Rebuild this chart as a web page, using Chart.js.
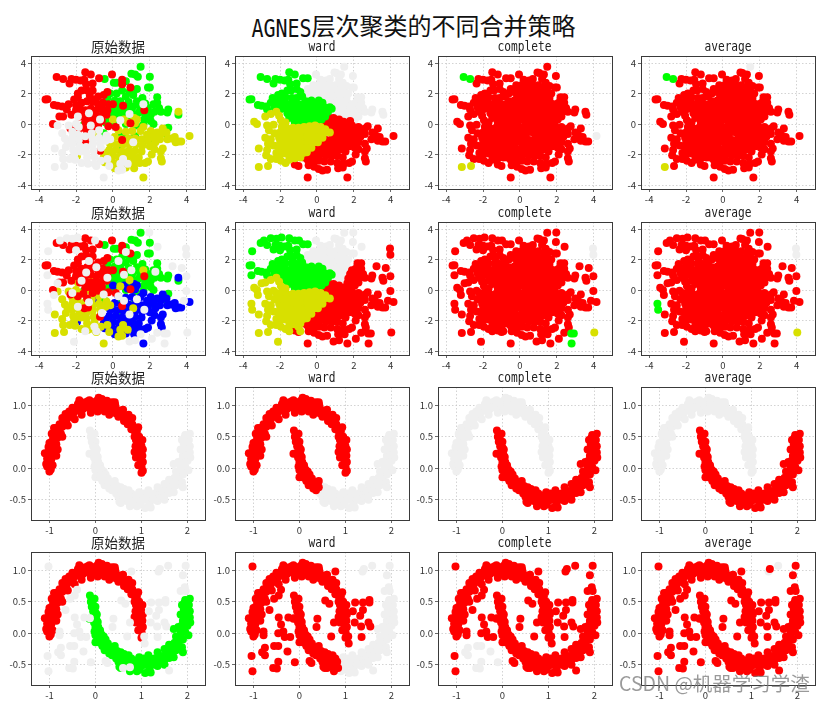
<!DOCTYPE html>
<html>
<head>
<meta charset="utf-8">
<title>AGNES</title>
<script src="https://cdn.jsdelivr.net/npm/chart.js@4"></script>
<style>
    html, body { margin: 0; padding: 0; background: #fff; }
    body { position: relative; width: 827px; height: 702px; overflow: hidden; }
    canvas { position: absolute; }
    #main-title { position: absolute; left: 0; top: 9px; width: 827px; text-align: center; color: #111; white-space: nowrap;
        font: 24px/32px "Noto Sans CJK SC", sans-serif; }
    #main-title span { font: 20px/32px "DejaVu Sans Mono", monospace; display: inline-block; transform: scaleY(1.25); }
    #mark { position: absolute; left: 619px; top: 669px; color: rgba(120,120,120,0.75); white-space: nowrap; z-index: 5;
        font: 19.5px/28px "Noto Sans CJK SC", sans-serif; }
    .sub { position: absolute; width: 174px; height: 18px; text-align: center; color: #222; white-space: nowrap; }
    .sub.cn { font: 13.5px/18px "Noto Sans CJK SC", sans-serif; }
    .sub.en { font: 11.2px/18px "DejaVu Sans Mono", monospace; transform: scaleY(1.2); }
</style>
</head>
<body>
<div id="main-title"><span>AGNES</span>层次聚类的不同合并策略</div>
<div id="mark">CSDN @机器学习学渣</div>
<script>
// colours
const RED = '#ff0000', GREEN = '#00ff00', YELLOW = '#d8e000', BLUE = '#0000ff', GREY = '#efefef';

// tick labels
const blobTicks = [-4, -2, 0, 2, 4];
const moonXTicks = [-1, 0, 1, 2];
const moonYTicks = [-0.5, 0, 0.5, 1];
const moonYLabels = ['-0.5', '0.0', '0.5', '1.0'];
const titles = ['原始数据', 'ward', 'complete', 'average'];

// blobs, true clusters (first column)
const origRed = [[-3.65,1.6],[-3.55,1.62],[-3.05,3.08],[-2.7,2.95],[-2.25,2.95],[-2.35,2.65],[-2,2.9],[-1.75,2.85],[-1.5,3.4],[-1.2,3.25],[-1.55,2.9],[-1.45,2.6],[-1.1,2.65],[-0.75,3],[-0.05,3.25],[0.5,2.9],[0.5,2.6],[0.95,2.4],[-3.2,1.25],[-3,1.2],[-2.75,1.15],[-2.5,0.95],[-3.25,0],[-2.9,0.5],[-2.7,0.5],[-2.4,1.3],[-2.1,1.6],[-1.9,2],[-1.7,2.2],[-1.4,2.2],[-1.1,2.2],[-0.8,1.8],[-0.5,1.9],[-0.3,2.1],[-2,1.25],[-1.7,1.4],[-1.4,1.5],[-1.1,1.45],[-0.8,1.3],[-0.55,1.4],[-0.25,1.3],[0,1.3],[-2,0.9],[-1.75,0.95],[-1.5,0.9],[-1.2,1],[-0.9,0.9],[-0.6,1],[-0.3,0.9],[-1.8,0.5],[-1.5,0.55],[-1.2,0.5],[-0.9,0.55],[-0.6,0.55],[-1.5,0.15],[-1.25,0.2],[-0.9,0.15],[-0.6,0.2],[-2.3,-0.3],[-1.9,-0.4],[-1.6,-0.25],[-1.4,-0.55],[-1.1,-0.2],[-0.8,-0.05],[-0.25,-0.15],[0.15,-0.2],[-1.55,-1.2],[-1.35,-1.15],[0.5,-1.05],[0.55,1.2],[0.95,0.05],[1.7,0.9],[-0.7,-1.75],[-1.9,1.75],[-1.25,1.85],[-0.95,1.6],[-2.25,0.6],[-0.35,0.6]];
const origGreen = [[1.5,3.75],[1,3.3],[1.2,3.25],[1.35,3.1],[2,3.1],[-0.45,2.95],[0.05,2.7],[0.2,2.7],[0.7,2.8],[1.9,2.4],[2,2.4],[0.5,2.2],[0.9,2.1],[1.3,2.3],[-0.15,2],[0.2,2],[0.7,1.8],[1.1,1.9],[1.6,1.7],[2.4,1.75],[2.4,1.4],[-0.3,1.7],[0.1,1.55],[0.4,1.5],[0.85,1.45],[1.3,1.5],[1.75,1.35],[2.2,1.3],[2.5,1.05],[3,0.95],[2.95,0.75],[3.55,0.6],[0.1,1.15],[0.45,1.1],[0.8,1.1],[1.1,1.15],[1.5,1.1],[1.9,1.05],[2.25,0.8],[2.6,0.8],[0,0.85],[0.35,0.8],[0.7,0.75],[1.05,0.7],[1.4,0.75],[1.75,0.6],[2.05,0.6],[-0.6,0.55],[-0.2,0.5],[0.15,0.45],[0.5,0.4],[0.9,0.35],[1.3,0.35],[1.7,0.3],[2.05,0.2],[-0.9,0.1],[-0.4,0.1],[0,0.05],[0.7,0],[1.25,-0.1],[1.65,-0.05],[2.2,0],[3,-0.25],[2.8,-0.6],[-1.6,-0.1],[-0.5,-0.6],[0.6,-0.8],[1.2,-0.8],[0.4,-1.7],[0.45,-0.8],[1.95,-1]];
const origYellow = [[4.15,-0.78],[3.55,0.8],[3.7,-1.15],[3.55,-1.15],[3.4,-1.2],[3.15,-0.95],[2.95,-1],[3.35,-0.85],[2.6,-0.65],[2.9,-0.55],[2.7,-0.3],[2.05,-0.45],[2.4,-0.55],[1.65,-0.2],[1.2,0.05],[1.15,0.4],[1.3,0.3],[0.6,0.3],[0,0.3],[-0.9,-0.7],[-1.05,0],[-1,-0.05],[0.8,0.1],[0.3,-0.4],[0.7,-0.5],[1.05,-0.45],[1.5,-0.45],[1.85,-0.7],[2.2,-0.85],[2.55,-1],[0.1,-0.85],[0.45,-1],[0.85,-0.95],[1.2,-0.95],[1.55,-1],[1.9,-1.1],[2.3,-1.2],[-0.15,-1.3],[0.2,-1.35],[0.55,-1.35],[0.9,-1.35],[1.25,-1.35],[1.6,-1.4],[2,-1.45],[-0.2,-1.7],[0.15,-1.7],[0.5,-1.8],[0.85,-1.75],[1.2,-1.75],[1.55,-1.8],[2.25,-1.65],[2.7,-1.6],[2.6,-1.8],[-0.4,-1.9],[0,-2.1],[0.35,-2.15],[0.7,-2.15],[1.05,-2.1],[1.4,-2.2],[2.1,-2],[2.6,-2.25],[2.65,-2.45],[-0.5,-2.2],[-0.45,-2.5],[-0.05,-2.45],[0.3,-2.5],[0.75,-2.45],[1.1,-2.5],[1.45,-2.55],[1.9,-2.45],[1.75,-2.55],[0.1,-2.9],[0.7,-2.85],[1.15,-2.9],[1.65,-3.5],[-1.95,-2.1]];
const origGrey = [[-3.15,-1.6],[-3.15,-2.82],[-2.65,-2.75],[-2.75,-1.9],[-2.55,-1.5],[-2.45,-1.2],[-2.6,-0.95],[-2.75,-0.6],[-3,-0.1],[-2.7,-2.3],[-2.35,-2.3],[-2.2,-0.5],[-2.2,-0.9],[-2.2,-1.3],[-2.15,-1.7],[-2.1,-2],[-2.05,-2.35],[-1.85,-0.2],[-1.9,-0.7],[-1.85,-1.05],[-1.8,-1.45],[-1.75,-1.8],[-1.7,-2.55],[-1.5,-0.8],[-1.45,-1.5],[-1.45,-1.85],[-1.4,-2.2],[-1.35,-2.6],[-1.15,-0.6],[-1.1,-1],[-1.1,-1.35],[-1.05,-1.75],[-1,-2.15],[-1,-2.6],[-0.75,-0.4],[-0.75,-0.9],[-0.7,-1.25],[-0.65,-1.55],[-0.65,-2.4],[-0.9,-2.75],[-0.4,-1.1],[-0.35,-0.75],[-0.3,-2.3],[-0.15,-1],[-0.5,-3.5],[-0.2,-2.75],[0.3,-3.05],[0.5,-3],[0.4,-2.6],[0.8,-2.6],[-0.7,0.3],[-1.9,0.5],[-1.3,0.7],[-2,0],[-1.2,-0.1],[0.4,0.25],[1.1,-1.2],[1.65,1.3],[0.9,0.65],[0.55,-2.3],[-2.4,-0.1]];

// blobs, ward result of the first row
const wardGreen = [[-3.65,1.6],[-3.55,1.62],[-3.05,3.08],[-2.7,2.95],[-2.25,2.95],[-2.35,2.65],[-2,2.9],[-1.75,2.85],[-1.5,3.4],[-1.2,3.25],[-1.55,2.9],[-1.45,2.6],[-1.1,2.65],[-0.75,3],[-0.5,3],[-1.4,2.2],[-1.1,2.3],[-0.9,2.1],[-0.8,1.8],[-2.1,1.9],[-1.9,2],[-1.6,2.2],[-2.4,1.7],[-2.3,1.45],[-2,1.6],[-1.7,1.75],[-1.35,1.7],[-1.1,1.7],[-0.6,1.5],[-0.3,1.55],[0.1,1.55],[0.3,1.4],[-3.2,1.25],[-3,1.2],[-2.75,1.15],[-2.5,1.4],[-2.7,0.95],[-2.3,1.1],[-2,1.25],[-1.7,1.35],[-1.4,1.35],[-1.1,1.35],[-0.8,1.3],[-0.5,1.25],[-0.2,1.25],[0.1,1.2],[0.4,1.1],[0.7,1.1],[0.8,1],[-2,0.95],[-1.7,1],[-1.4,1],[-1.1,1],[-0.8,0.95],[-0.5,0.95],[-0.2,0.95],[0.1,0.9],[0.35,0.85],[0.6,0.8],[-1.6,0.7],[-1.3,0.7],[-1,0.7],[-0.7,0.65],[-0.4,0.65],[-0.1,0.65],[0.2,0.6],[0.45,0.5],[-1.5,0.4],[-1.2,0.4],[-0.9,0.35],[-0.6,0.35],[-0.3,0.35],[0,0.3],[0.25,0.3],[-1.2,0.1],[-0.9,0.1],[-0.6,0.1],[-0.35,0.12],[-1.05,0]];
const wardYellow = [[-3.4,0.15],[-3.25,0],[-3.15,-1.6],[-3.15,-2.82],[-2.65,-2.75],[-2.8,0.5],[-2.5,0.65],[-2.2,0.8],[-2.7,-0.1],[-2.6,-0.4],[-2.35,-0.05],[-2.3,-0.6],[-2.8,-0.9],[-2.65,-1.3],[-2.7,-1.7],[-2.75,-2.05],[-2.5,-1],[-2.35,-1.4],[-2.5,-2.3],[-2.2,-2.3],[-2.2,-1.9],[-1.95,-2.4],[-1.7,-2.55],[-1.5,-2.35],[-2.05,0.55],[-1.95,0.25],[-1.7,0.1],[-1.9,-0.2],[-1.6,-0.3],[-1.3,-0.25],[-1,-0.25],[-0.7,-0.2],[-0.4,-0.15],[-0.1,-0.1],[0.2,-0.2],[0.45,-0.35],[-2,-0.55],[-1.7,-0.6],[-1.4,-0.6],[-1.1,-0.55],[-0.8,-0.55],[-0.5,-0.5],[-0.2,-0.5],[0.1,-0.5],[0.4,-0.55],[0.7,-0.55],[-2.05,-0.9],[-1.75,-0.95],[-1.45,-0.95],[-1.15,-0.9],[-0.85,-0.9],[-0.55,-0.85],[-0.25,-0.85],[0.05,-0.85],[0.3,-0.9],[-2,-1.25],[-1.7,-1.3],[-1.4,-1.3],[-1.1,-1.25],[-0.8,-1.25],[-0.5,-1.2],[-0.2,-1.2],[0.05,-1.2],[-2.05,-1.6],[-1.75,-1.6],[-1.45,-1.65],[-1.15,-1.6],[-0.85,-1.6],[-0.55,-1.55],[-0.3,-1.55],[-1.95,-1.95],[-1.65,-1.95],[-1.35,-2],[-1.05,-1.95],[-0.75,-1.9],[-0.55,-1.85],[-1.2,-2.25],[-0.9,-2.2]];
const wardRed = [[0.6,0.5],[0.9,0.4],[1.2,0.3],[0.5,0.2],[0.8,0.1],[1.1,0.05],[1.45,0.15],[1.8,0.2],[0.3,-0.05],[0.6,-0.15],[0.95,-0.2],[1.3,-0.15],[1.6,-0.1],[1.9,-0.1],[2.25,-0.2],[2.6,-0.3],[2.75,-0.15],[3.3,-0.3],[2.4,-0.55],[0.9,-0.5],[1.2,-0.5],[1.5,-0.5],[1.8,-0.45],[2.1,-0.5],[2.6,-0.65],[3,-0.55],[0.85,-0.8],[1.15,-0.8],[1.45,-0.8],[1.75,-0.8],[2.05,-0.85],[2.35,-0.85],[3.15,-0.7],[3.4,-0.85],[0.5,-1.05],[0.8,-1.1],[1.1,-1.1],[1.4,-1.1],[1.7,-1.1],[2,-1.15],[2.25,-1.2],[2.95,-1],[3.3,-1.1],[3.55,-1.15],[3.7,-1.15],[4.15,-0.78],[0.25,-1.35],[0.55,-1.4],[0.85,-1.4],[1.15,-1.45],[1.45,-1.4],[1.75,-1.45],[2.05,-1.55],[2.6,-1.3],[0,-1.65],[0.3,-1.7],[0.6,-1.75],[0.9,-1.75],[1.2,-1.7],[1.55,-1.8],[2.25,-1.65],[2.6,-1.8],[2.7,-1.6],[-0.4,-2],[-0.15,-2],[0.15,-2.05],[0.5,-2.05],[0.8,-2.1],[1.1,-2.1],[1.4,-2.2],[2.1,-2],[2.6,-2.25],[2.65,-2.45],[-0.7,-2.2],[-0.5,-2.35],[-0.2,-2.4],[0.1,-2.4],[0.4,-2.45],[0.75,-2.45],[1.1,-2.55],[1.45,-2.6],[1.9,-2.45],[1.75,-2.55],[-1.2,-2.65],[-1,-2.75],[-0.45,-2.7],[-0.15,-2.8],[0.1,-2.95],[0.3,-3.05],[0.55,-3],[1.15,-2.9],[1.4,-2.85],[-0.5,-3.5],[1.65,-3.5]];
// grey part that stays grey in the second row
const wardGreyTop = [[1.48,3.76],[0.95,3.38],[1.05,3.35],[1.3,3.25],[-0.05,3.25],[0.2,2.9],[0.5,2.85],[0.7,2.95],[1.2,2.95],[1.4,2.7],[-0.5,2.3],[-0.2,2.55],[0.1,2.55],[0.4,2.5],[0.7,2.55],[1,2.55],[1.3,2.4],[1.6,2.5],[1.95,3.15],[1.9,2.4],[2,2.4],[-0.6,2],[-0.3,2.1],[0,2.15],[0.3,2.15],[0.6,2.15],[0.9,2.15],[1.2,2.1],[1.5,2.1],[1.7,2],[-0.15,1.8],[0.15,1.85],[0.45,1.8],[0.75,1.85],[1.05,1.8],[1.35,1.8],[1.6,1.7],[0.5,1.5],[0.8,1.5],[1.1,1.5],[1.4,1.5],[1.65,1.4],[0.6,1.2],[0.9,1.25],[1.2,1.2],[1.5,1.15],[0.85,0.95],[1.15,0.9],[1.45,0.85],[0.75,0.7],[1.05,0.65],[1.35,0.6],[1,0.45]];
// grey part that turns red in the second row
const wardGreyRight = [[2.2,1.75],[2.4,1.75],[2.4,1.4],[2.1,1.4],[1.9,1.3],[2.2,1.15],[2.5,1.05],[1.8,1.05],[2.05,0.9],[2.3,0.8],[2.6,0.8],[3,0.95],[2.95,0.75],[3.55,0.8],[3.6,0.6],[1.7,0.75],[1.95,0.6],[2.25,0.5],[1.65,0.45],[2.05,0.3]];

// blobs, extra noise of the second row, by the colour it gets from ward
const noiseGreen = [[-3.51,2.55],[-2.5,3.39],[-2.19,3.37],[-1.92,3.44],[-2.87,3.24],[-0.97,3.24],[-3.55,0.97],[-2,2.6],[-1.3,1.9],[-1.7,0.6],[-0.9,1.5],[-0.3,0.8],[-1.45,1.15]];
const noiseYellow = [[-3.2,-0.33],[-2.11,-3.39],[-3,0.45],[-0.6,-1.5],[-1.3,-0.8],[-1.9,-1.1],[-1.5,-2.7],[-0.9,-2.7],[-0.5,-0.3],[-2.2,-0.2],[-1,-2.4]];
const noiseCornerLeft = [[-3.55,-0.9],[-3.51,-1.3]];
const noiseCornerRight = [[2.78,-2.85],[2.92,-2.85],[2.8,-3.5]];
const noiseFarRight = [[3.96,2.73],[3.98,2.31]];
const noiseFarLow = [[4.03,-2.78]];
const noiseRed = [[3.98,0.9],[3.98,-0.07],[3.85,-0.7],[0.9,-3.37],[2.11,-3.2],[3.23,1.56],[3.73,1.45],[1.2,-3.3],[0.6,-0.7],[1.3,-0.6],[0.9,-1.6],[1.7,-1.3],[0.3,-0.4],[2.4,-2.8],[1.5,-2.9],[2.3,1.2]];
const noiseGrey = [[1.97,3.77],[2.42,2.84],[0.6,1],[1,1.3],[0.3,1.9],[0.7,2.5]];

// moons, first column upper arc
const moonUpper = [[-1,-0.05],[-0.97,-0.02],[-1.05,0.03],[-1.07,0.07],[-1,0.08],[-0.93,0.05],[-0.96,0.14],[-1.05,0.15],[-1.1,0.24],[-1.03,0.25],[-0.92,0.2],[-0.97,0.32],[-1.02,0.34],[-0.88,0.29],[-0.95,0.42],[-1,0.4],[-0.85,0.38],[-0.92,0.5],[-0.95,0.55],[-0.83,0.48],[-0.87,0.56],[-0.8,0.53],[-0.85,0.64],[-0.78,0.62],[-0.75,0.55],[-0.78,0.7],[-0.72,0.66],[-0.7,0.73],[-0.65,0.72],[-0.68,0.8],[-0.62,0.78],[-0.6,0.85],[-0.65,0.86],[-0.55,0.82],[-0.52,0.9],[-0.57,0.9],[-0.47,0.88],[-0.43,0.95],[-0.5,0.96],[-0.38,0.92],[-0.38,1.02],[-0.35,1.08],[-0.32,0.98],[-0.3,1.05],[-0.27,0.94],[-0.22,1.02],[-0.18,1.06],[-0.2,0.97],[-0.13,1.08],[-0.1,1],[-0.05,1.05],[-0.02,0.98],[0.03,1.07],[0.07,1.12],[0.1,1.03],[0.12,0.95],[0.14,1.1],[0.18,1.03],[0.2,0.9],[0.24,1],[0.25,1.07],[0.3,0.97],[0.33,0.92],[0.36,1.05],[0.4,0.95],[0.43,1],[0.45,0.87],[0.5,0.92],[0.5,0.82],[0.55,0.87],[0.6,0.82],[0.62,0.75],[0.68,0.78],[0.7,0.7],[0.75,0.72],[0.78,0.62],[0.8,0.7],[0.84,0.6],[0.85,0.5],[0.9,0.58],[0.88,0.45],[0.93,0.42],[0.95,0.5],[0.87,0.35],[0.92,0.3],[0.98,0.4],[0.85,0.26],[1,0.35],[0.95,0.2],[1.03,0.3],[0.88,0.17],[0.98,0.1],[1.02,0.2],[0.93,0.05],[1,0.03],[1.03,0.1],[1.03,-0.04],[1,-0.07],[-0.85,0.2],[-0.82,0.3],[-0.72,0.5],[-0.6,0.68],[-0.45,0.78],[-0.3,0.85],[-0.1,0.88],[0.05,0.9],[0.3,0.85],[0.42,1.05],[0.6,0.93],[0.72,0.85],[0.8,0.8],[0.93,0.65],[1.02,0.45],[-0.9,0.64],[-0.72,0.8]];
// moons, lower arc cut in three: ward splits it at two places
const moonLowerA = [[-0.12,0.6],[-0.08,0.55],[-0.1,0.5],[-0.05,0.45],[-0.02,0.55],[-0.08,0.42],[0,0.42],[-0.05,0.35],[0,0.33],[-0.02,0.28],[0.03,0.3],[-0.13,0.23],[-0.06,0.24],[0.02,0.22],[-0.03,0.17],[0.05,0.18],[0,0.1],[0.06,0.1],[-0.02,0.03],[0.05,0.03],[0.1,0.05],[0,-0.03],[0.07,-0.03],[0.13,-0.02],[0,-0.14],[0.05,-0.1],[0.13,-0.08],[0.18,-0.05],[0.1,-0.15],[0.17,-0.14],[0.22,-0.1],[0.15,-0.2],[0.22,-0.2],[0.27,-0.16],[0.2,-0.27],[0.27,-0.26],[0.33,-0.22],[0.3,-0.32],[0.37,-0.28],[0.4,-0.22],[0.42,-0.3],[0.36,-0.35],[0.42,-0.2]];
const moonLowerB = [[0.47,-0.28],[0.5,-0.36],[0.45,-0.4],[0.55,-0.3],[0.57,-0.4],[0.5,-0.45],[0.52,-0.53],[0.62,-0.33],[0.65,-0.43],[0.6,-0.48],[0.68,-0.52],[0.72,-0.35],[0.74,-0.44],[0.7,-0.48],[0.78,-0.4],[0.8,-0.5],[0.75,-0.55],[0.82,-0.45],[0.84,-0.55],[0.55,-0.55],[0.75,-0.6]];
const moonLowerC = [[0.9,-0.5],[0.88,-0.43],[0.95,-0.58],[0.98,-0.45],[1,-0.52],[1.05,-0.4],[1.08,-0.63],[1.1,-0.5],[1.12,-0.42],[1.17,-0.57],[1.2,-0.45],[1.25,-0.5],[1.28,-0.4],[1.35,-0.52],[1.38,-0.42],[1.42,-0.47],[1.45,-0.36],[1.5,-0.42],[1.55,-0.33],[1.6,-0.39],[1.62,-0.28],[1.67,-0.32],[1.7,-0.22],[1.75,-0.27],[1.72,-0.15],[1.8,-0.2],[1.82,-0.12],[1.88,-0.22],[1.78,-0.08],[1.85,-0.05],[1.9,-0.1],[1.7,0.07],[1.85,0.02],[1.9,0.04],[1.95,0.02],[1.87,0.12],[1.93,0.13],[2,0.12],[2.06,0.17],[1.9,0.2],[1.97,0.22],[2.05,0.25],[1.93,0.3],[1.98,0.33],[2.05,0.35],[1.92,0.38],[1.97,0.42],[2.03,0.45],[1.93,0.48],[2,0.5],[1.95,0.53],[2.05,0.55],[0.95,-0.38],[1.15,-0.35],[1.35,-0.3],[1.5,-0.25],[1.6,-0.18],[1.75,-0.05],[1.8,0.1],[1.85,0.3],[1.88,0.45],[0.9,-0.6],[1.2,-0.62],[1.5,-0.5],[1.7,-0.38],[1.9,-0.3],[2.02,-0.03]];
// moons, noise of the last row
const moonNoiseLeft = [[-1.02,1.06],[-1.04,-0.36],[-1.02,-0.6],[-0.4,0.69],[-0.45,0.6],[-0.45,0.25],[-0.24,0.25],[-0.12,0.24],[-0.4,0.14],[-0.78,0.03],[-0.78,-0.03],[-0.46,0],[-0.35,0.03],[-0.32,-0.06],[-0.2,-0.06],[-0.65,0.37],[-0.55,0.55]];
const moonNoiseGroup = [[-0.75,-0.23],[-0.81,-0.3],[-0.75,-0.35],[-0.55,-0.2],[-0.46,-0.2],[-0.26,-0.29],[-0.46,-0.45],[-0.1,-0.46],[-0.57,-0.55],[-0.49,-0.56]];
const moonNoiseMid = [[0.22,-0.44],[0.26,-0.47],[0.39,0.23],[0.37,0.1],[0.69,-0.05],[0.56,0.52],[0.65,0.47],[0.75,0.17],[1.21,0.49],[1.38,0.49],[1.52,0.53],[1.52,0.49],[1.16,0.35],[1.38,0.37],[1.32,0.28],[1.2,0.17],[1.5,0.17],[1.54,0.11],[1.34,0.11],[1.35,-0.06],[1.06,-0.05],[1.07,-0.16],[0.78,0.98],[0.6,-0.55],[0.75,-0.54]];
const moonNoiseFar = [[1.4,1.02],[1.96,1.07],[1.9,0.92],[1.94,0.73],[1.85,0.67],[1.96,0.67],[1.6,-0.59]];
const moonNoiseTop = [[1.37,0.98],[1.58,1.07]];

const blobAll = [wardGreen, wardYellow, wardRed, wardGreyTop, wardGreyRight];
const noiseRest = [noiseGreen, noiseYellow, noiseRed, noiseGrey];
const noiseAll = [...noiseRest, noiseCornerLeft, noiseCornerRight, noiseFarRight, noiseFarLow];
const moonNoiseAll = [moonNoiseLeft, moonNoiseGroup, moonNoiseMid, moonNoiseFar, moonNoiseTop];

function merge(...lists) { return lists.flat(); }
function without(list, drop) { return list.filter(p => !drop.some(d => d[0] === p[0] && d[1] === p[1])); }

const allBlobPts = merge(...blobAll);
const row1CompleteGreen = wardGreen.slice(2, 4);
const row1CompleteYellow = wardYellow.slice(3, 5);
const row1AvgYellow = wardYellow.slice(3, 4);
const row1CompleteGrey = [[4.15, -0.78]];
const row1AvgGrey = [[1.48, 3.76]];

const row2All = merge(allBlobPts, ...noiseRest);

// every panel: a list of [points, colour], in drawing order
const rows = [
    { kind: 'blob', panels: [
        [[origGreen, GREEN], [origYellow, YELLOW], [origRed, RED], [origGrey, GREY]],
        [[wardGreyTop, GREY], [wardGreyRight, GREY], [wardRed, RED], [wardGreen, GREEN], [wardYellow, YELLOW]],
        [[without(allBlobPts, merge(row1CompleteGreen, row1CompleteYellow, row1CompleteGrey)), RED], [row1CompleteGrey, GREY], [row1CompleteGreen, GREEN], [row1CompleteYellow, YELLOW]],
        [[without(allBlobPts, merge(row1CompleteGreen, row1AvgYellow, row1AvgGrey)), RED], [row1AvgGrey, GREY], [row1CompleteGreen, GREEN], [row1AvgYellow, YELLOW]]
    ]},
    { kind: 'blob', panels: [
        [[origGreen, GREEN], [origYellow, BLUE], [origGrey, YELLOW], [origRed, RED], [merge(...noiseAll), GREY]],
        [[wardGreyTop, GREY], [noiseGrey, GREY], [wardGreyRight, RED], [wardRed, RED], [noiseRed, RED], [noiseCornerRight, RED], [noiseFarRight, RED], [noiseFarLow, RED], [wardGreen, GREEN], [noiseGreen, GREEN], [wardYellow, YELLOW], [noiseYellow, YELLOW], [noiseCornerLeft, YELLOW]],
        [[row2All, RED], [noiseCornerLeft, RED], [noiseFarRight, GREY], [noiseCornerRight, GREEN], [noiseFarLow, YELLOW]],
        [[row2All, RED], [noiseCornerRight, RED], [noiseFarRight, GREY], [noiseCornerLeft, GREEN], [noiseFarLow, YELLOW]]
    ]},
    { kind: 'moon', panels: [
        [[merge(moonLowerA, moonLowerB, moonLowerC), GREY], [moonUpper, RED]],
        [[merge(moonLowerB, moonLowerC), GREY], [merge(moonUpper, moonLowerA), RED]],
        [[moonUpper, GREY], [merge(moonLowerA, moonLowerB, moonLowerC), RED]],
        [[moonUpper, GREY], [merge(moonLowerA, moonLowerB, moonLowerC), RED]]
    ]},
    { kind: 'moon', panels: [
        [[moonUpper, RED], [merge(moonLowerA, moonLowerB, moonLowerC), GREEN], [merge(...moonNoiseAll), GREY]],
        [[merge(moonLowerC, moonNoiseFar, moonNoiseTop), GREY], [merge(moonUpper, moonLowerA, moonLowerB, moonNoiseLeft, moonNoiseGroup, moonNoiseMid), RED]],
        [[moonNoiseGroup, GREY], [merge(moonUpper, moonLowerA, moonLowerB, moonLowerC, moonNoiseLeft, moonNoiseMid, moonNoiseFar, moonNoiseTop), RED]],
        [[moonNoiseTop, GREY], [merge(moonUpper, moonLowerA, moonLowerB, moonLowerC, moonNoiseLeft, moonNoiseGroup, moonNoiseMid, moonNoiseFar), RED]]
    ]}
];

// axis limits
const limits = {
    blob: { x: [-4.44, 4.99], y: [-4.26, 4.46], xt: blobTicks, yt: blobTicks, fmt: v => String(v) },
    moon: { x: [-1.40, 2.38], y: [-0.82, 1.29], xt: moonXTicks, yt: moonYTicks, fmt: v => moonYLabels[moonYTicks.indexOf(v)] }
};

const colLeft = [31, 235, 437.5, 641];
const rowTop = [56, 222, 387, 552];
const AXIS_W = 31, AXIS_H = 18, TITLE_H = 18, PLOT_W = 174, PLOT_H = 133, PAD_R = 8;

// four sided frame, chart.js only has the axis side
const framePlugin = {
    id: 'frame',
    afterDraw(chart) {
        const a = chart.chartArea, c = chart.ctx;
        c.save();
        c.strokeStyle = '#3a3a3a';
        c.lineWidth = 1;
        c.strokeRect(Math.round(a.left) + 0.5, Math.round(a.top) + 0.5, Math.round(a.width), Math.round(a.height));
        c.restore();
    }
};

function makeAxis(range, values, fmt, isY) {
    return {
        type: 'linear',
        min: range[0],
        max: range[1],
        afterBuildTicks: scale => { scale.ticks = values.map(v => ({ value: v })); },
        afterFit: scale => { if (isY) scale.width = AXIS_W; else scale.height = AXIS_H; },
        grid: { color: '#c8c8c8', lineWidth: 0.8, tickLength: 3, tickColor: '#444', drawTicks: true },
        border: { display: false, dash: [1.5, 2] },
        ticks: {
            color: '#333',
            padding: 2,
            autoSkip: false,
            maxRotation: 0,
            font: { family: '"Noto Sans CJK SC", sans-serif', size: 9.5 },
            callback: v => fmt(v)
        }
    };
}

rows.forEach((row, r) => {
    const lim = limits[row.kind];
    row.panels.forEach((sets, c) => {
        const cv = document.createElement('canvas');
        const w = AXIS_W + PLOT_W + PAD_R, h = TITLE_H + PLOT_H + AXIS_H;
        cv.width = w;
        cv.height = h;
        cv.style.left = (colLeft[c] - AXIS_W) + 'px';
        cv.style.top = (rowTop[r] - TITLE_H) + 'px';
        cv.style.width = w + 'px';
        cv.style.height = h + 'px';
        document.body.appendChild(cv);

        // titles as text over the plot, centred on the axes
        const sub = document.createElement('div');
        sub.className = 'sub ' + (c === 0 ? 'cn' : 'en');
        sub.textContent = titles[c];
        sub.style.left = colLeft[c] + 'px';
        sub.style.top = (rowTop[r] - TITLE_H - (c === 0 ? 1 : 0)) + 'px';
        document.body.appendChild(sub);

        new Chart(cv, {
            type: 'scatter',
            data: {
                datasets: sets.map(([pts, color]) => ({
                    data: pts.map(p => ({ x: p[0], y: p[1] })),
                    backgroundColor: color,
                    borderWidth: 0,
                    pointRadius: 4,
                    pointHoverRadius: 4
                })).reverse()
            },
            options: {
                responsive: false,
                animation: false,
                events: [],
                layout: { autoPadding: false, padding: { top: TITLE_H, right: PAD_R } },
                scales: {
                    x: makeAxis(lim.x, lim.xt, String, false),
                    y: makeAxis(lim.y, lim.yt, lim.fmt, true)
                },
                plugins: {
                    legend: { display: false },
                    tooltip: { enabled: false },
                    title: { display: false }
                }
            },
            plugins: [framePlugin]
        });
    });
});
</script>
</body>
</html>
